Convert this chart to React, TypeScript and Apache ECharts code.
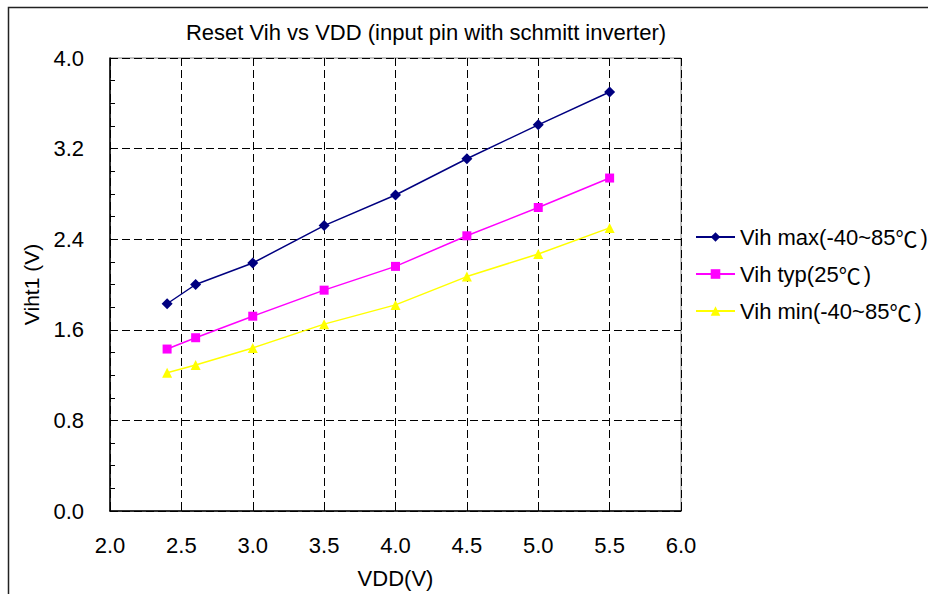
import React, { useEffect, useRef } from "react";
import * as echarts from "echarts";

const vdd = [2.4, 2.6, 3.0, 3.5, 4.0, 4.5, 5.0, 5.5];
const vihMax = [1.83, 2.0, 2.19, 2.52, 2.79, 3.11, 3.41, 3.7];
const vihTyp = [1.43, 1.53, 1.72, 1.95, 2.16, 2.43, 2.68, 2.94];
const vihMin = [1.22, 1.29, 1.44, 1.65, 1.82, 2.07, 2.27, 2.5];
const seriesNames = ["Vih max(-40~85℃)", "Vih typ(25℃)", "Vih min(-40~85℃)"];
const titleText = "Reset Vih vs VDD (input pin with schmitt inverter)";
const xName = "VDD(V)";
const yName = "Viht1 (V)";

const FONT = "'Liberation Sans', Arial, sans-serif";

export default function App() {
  const ref = useRef<HTMLDivElement>(null);
  useEffect(() => {
    if (!ref.current) return;
    const chart = echarts.init(ref.current, undefined, { renderer: "svg" });
    const pairs = (ys: number[]) => vdd.map((x, i) => [x, ys[i]]);
    const mk = (name: string, ys: number[], color: string, symbol: string, size: number) => ({
      name,
      type: "line",
      data: pairs(ys),
      symbol,
      symbolSize: size,
      lineStyle: { color, width: 1.5 },
      itemStyle: { color },
    });
    chart.setOption({
      animation: false,
      backgroundColor: "#fff",
      textStyle: { fontFamily: FONT },
      title: {
        text: titleText,
        left: 421,
        top: 16,
        textAlign: "center",
        textStyle: { fontSize: 22, fontWeight: "normal", color: "#000", fontFamily: FONT },
      },
      legend: {
        orient: "vertical",
        left: 690,
        top: 221,
        itemWidth: 39,
        itemHeight: 12,
        itemGap: 15,
        formatter: (n: string) => n.replace("℃", "{c|℃}"),
        textStyle: {
          fontSize: 22,
          color: "#000",
          fontFamily: FONT,
          rich: {
            c: {
              fontSize: 22,
              color: "#000",
              fontFamily: "'Noto Sans CJK SC', sans-serif",
              padding: [0, 3, 0, 0],
            },
          },
        },
        data: seriesNames,
      },
      grid: {
        left: 110,
        top: 58,
        width: 571,
        height: 455,
        show: true,
        borderColor: "#808080",
        borderWidth: 1,
        containLabel: false,
      },
      xAxis: {
        type: "value",
        min: 2,
        max: 6,
        interval: 0.5,
        name: xName,
        nameLocation: "middle",
        nameGap: 56,
        nameTextStyle: { fontSize: 22, color: "#000", fontFamily: FONT },
        axisLine: { show: true, lineStyle: { color: "#000", width: 1.5 } },
        axisTick: { show: true, inside: true, length: 5, lineStyle: { color: "#000" } },
        axisLabel: {
          fontSize: 22,
          color: "#000",
          margin: 23,
          fontFamily: FONT,
          formatter: (v: number) => v.toFixed(1),
        },
        splitLine: { show: true, lineStyle: { color: "#000", type: [8, 4], width: 1 } },
      },
      yAxis: {
        type: "value",
        min: 0,
        max: 4,
        interval: 0.8,
        name: yName,
        nameLocation: "middle",
        nameGap: 68,
        nameTextStyle: { fontSize: 21, color: "#000", fontFamily: FONT },
        axisLine: { show: true, lineStyle: { color: "#000", width: 1.5 } },
        axisTick: { show: true, inside: true, length: 5, lineStyle: { color: "#000" } },
        minorTick: { show: true, splitNumber: 4, length: 5, lineStyle: { color: "#000" } },
        axisLabel: {
          fontSize: 22,
          color: "#000",
          margin: 26,
          fontFamily: FONT,
          formatter: (v: number) => v.toFixed(1),
        },
        splitLine: { show: true, lineStyle: { color: "#000", type: [8, 4], width: 1 } },
      },
      graphic: [
        {
          type: "rect",
          shape: { x: 8.5, y: 7.5, width: 1000, height: 1000 },
          style: { fill: "none", stroke: "#222", lineWidth: 1.5 },
          silent: true,
        },
      ],
      series: [
        mk(seriesNames[0], vihMax, "#000080", "diamond", 11),
        mk(seriesNames[1], vihTyp, "#FF00FF", "rect", 9),
        mk(seriesNames[2], vihMin, "#FFFF00", "triangle", 10),
      ],
    });
    return () => chart.dispose();
  }, []);
  return (
    <div
      ref={ref}
      style={{ position: "fixed", left: 0, top: 0, width: 928, height: 594 }}
    />
  );
}
